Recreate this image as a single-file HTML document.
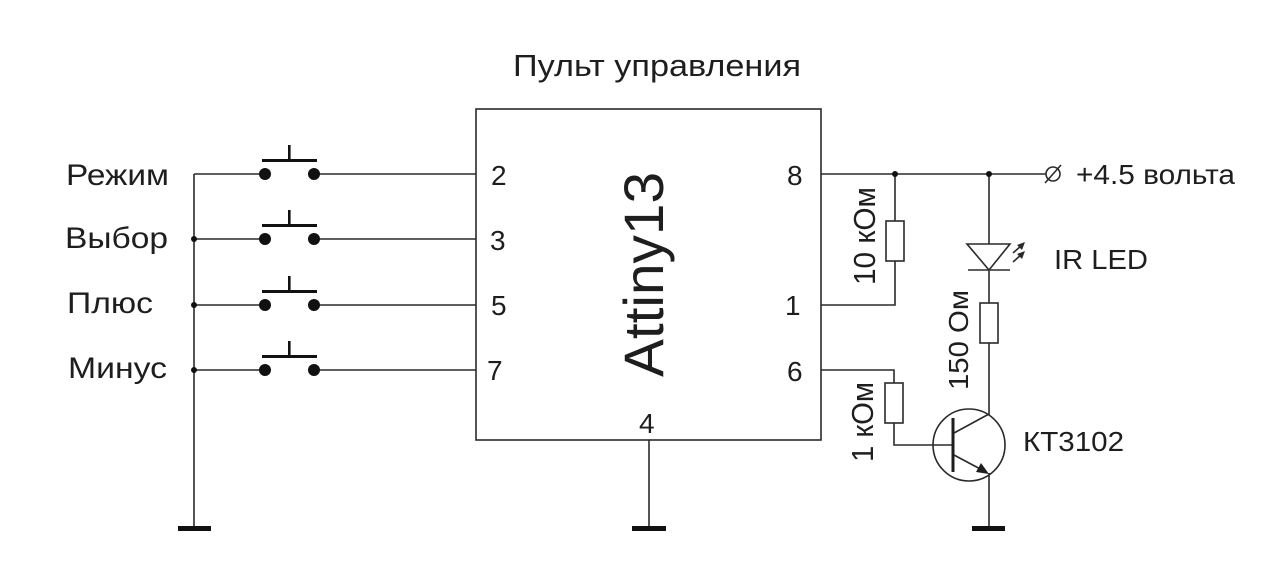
<!DOCTYPE html>
<html>
<head>
<meta charset="utf-8">
<style>
html,body{margin:0;padding:0;background:#fff;}
svg{display:block;}
text{font-family:"Liberation Sans","DejaVu Sans",sans-serif;fill:#1e1e1e;}
</style>
</head>
<body>
<svg width="1280" height="584" viewBox="0 0 1280 584" xmlns="http://www.w3.org/2000/svg">
<rect x="0" y="0" width="1280" height="584" fill="#fff"/>

<!-- Title -->
<text x="513" y="76" font-size="31" textLength="288" lengthAdjust="spacingAndGlyphs">Пульт управления</text>

<g stroke="#2a2a2a" stroke-width="1.6" fill="none">
  <!-- Chip -->
  <rect x="476" y="109" width="345" height="331"/>
  <!-- left bus -->
  <line x1="194" y1="174" x2="194" y2="528"/>
  <!-- rows left -->
  <line x1="194" y1="174" x2="265" y2="174"/>
  <line x1="314" y1="174" x2="476" y2="174"/>
  <line x1="194" y1="239" x2="265" y2="239"/>
  <line x1="314" y1="239" x2="476" y2="239"/>
  <line x1="194" y1="305" x2="265" y2="305"/>
  <line x1="314" y1="305" x2="476" y2="305"/>
  <line x1="194" y1="370" x2="265" y2="370"/>
  <line x1="314" y1="370" x2="476" y2="370"/>
  <!-- pin 4 -->
  <line x1="649" y1="440" x2="649" y2="528"/>
  <!-- pin 8 line -->
  <line x1="821" y1="174" x2="1046" y2="174"/>
  <!-- 10k -->
  <line x1="895" y1="174" x2="895" y2="221"/>
  <rect x="886" y="221" width="18" height="40"/>
  <polyline points="895,261 895,305 821,305"/>
  <!-- LED branch -->
  <line x1="989" y1="174" x2="989" y2="244"/>
  <polygon points="967,244 1010,244 989,270"/>
  <line x1="968" y1="270" x2="1010" y2="270"/>
  <line x1="989" y1="270" x2="989" y2="303"/>
  <rect x="980" y="303" width="18" height="40"/>
  <line x1="989" y1="343" x2="989" y2="415"/>
  <!-- LED arrows -->
  <line x1="1013" y1="253" x2="1022" y2="245"/>
  <line x1="1013" y1="262" x2="1022" y2="254"/>
  <!-- pin 6 -->
  <polyline points="821,370 894,370 894,383"/>
  <rect x="885" y="383" width="18" height="40"/>
  <polyline points="894,423 894,445 953,445"/>
  <!-- transistor -->
  <circle cx="969" cy="445" r="36"/>
  <line x1="954" y1="433" x2="989" y2="414"/>
  <line x1="954" y1="455" x2="984" y2="471"/>
  <line x1="989" y1="473" x2="989" y2="528"/>
  <!-- terminal -->
  <circle cx="1053" cy="174" r="7"/>
  <line x1="1045" y1="183" x2="1061" y2="165"/>
</g>

<!-- LED arrowheads -->
<polygon points="1025,242 1017,245 1022,250" fill="#2a2a2a"/>
<polygon points="1025,251 1017,254 1022,259" fill="#2a2a2a"/>

<!-- base bar -->
<rect x="951.5" y="418" width="3" height="54" fill="#1e1e1e"/>
<!-- emitter arrow -->
<polygon points="989,474 976,472 981,463" fill="#1e1e1e"/>

<!-- Switches -->
<g fill="#111">
  <g>
    <circle cx="265" cy="174" r="6"/><circle cx="314" cy="174" r="6"/>
    <rect x="262" y="159" width="55" height="3"/><rect x="288" y="145" width="2.6" height="15"/>
  </g>
  <g>
    <circle cx="265" cy="239" r="6"/><circle cx="314" cy="239" r="6"/>
    <rect x="262" y="224" width="55" height="3"/><rect x="288" y="210" width="2.6" height="15"/>
  </g>
  <g>
    <circle cx="265" cy="305" r="6"/><circle cx="314" cy="305" r="6"/>
    <rect x="262" y="290" width="55" height="3"/><rect x="288" y="276" width="2.6" height="15"/>
  </g>
  <g>
    <circle cx="265" cy="370" r="6"/><circle cx="314" cy="370" r="6"/>
    <rect x="262" y="355" width="55" height="3"/><rect x="288" y="341" width="2.6" height="15"/>
  </g>
  <!-- junction dots -->
  <circle cx="194" cy="239" r="3"/>
  <circle cx="194" cy="305" r="3"/>
  <circle cx="194" cy="370" r="3"/>
  <circle cx="895" cy="174" r="3"/>
  <circle cx="989" cy="174" r="3"/>
  <!-- grounds -->
  <rect x="178" y="526" width="33" height="5"/>
  <rect x="632" y="526" width="34" height="5"/>
  <rect x="972" y="526" width="33" height="5"/>
</g>

<!-- Left labels -->
<text x="66" y="185" font-size="30" textLength="103" lengthAdjust="spacingAndGlyphs">Режим</text>
<text x="65" y="248" font-size="30" textLength="103" lengthAdjust="spacingAndGlyphs">Выбор</text>
<text x="67" y="313" font-size="30" textLength="86" lengthAdjust="spacingAndGlyphs">Плюс</text>
<text x="68" y="378" font-size="30" textLength="99" lengthAdjust="spacingAndGlyphs">Минус</text>

<!-- Pin numbers -->
<text x="491" y="185" font-size="28">2</text>
<text x="490" y="250" font-size="28">3</text>
<text x="491" y="315" font-size="28">5</text>
<text x="487" y="380" font-size="28">7</text>
<text x="787" y="185" font-size="28">8</text>
<text x="785" y="315" font-size="28">1</text>
<text x="787" y="381" font-size="28">6</text>
<text x="639" y="433" font-size="28">4</text>

<!-- Attiny13 -->
<text transform="translate(663,377) rotate(-90)" font-size="56" textLength="205" lengthAdjust="spacingAndGlyphs">Attiny13</text>

<!-- Rotated resistor labels -->
<text transform="translate(875,285) rotate(-90)" font-size="31" textLength="98" lengthAdjust="spacingAndGlyphs">10 кОм</text>
<text transform="translate(968,390) rotate(-90)" font-size="28" textLength="100" lengthAdjust="spacingAndGlyphs">150 Ом</text>
<text transform="translate(873,462) rotate(-90)" font-size="31" textLength="80" lengthAdjust="spacingAndGlyphs">1 кОм</text>

<!-- Right labels -->
<text x="1076" y="184" font-size="28" textLength="159" lengthAdjust="spacingAndGlyphs">+4.5 вольта</text>
<text x="1054" y="269" font-size="28" textLength="94" lengthAdjust="spacingAndGlyphs">IR LED</text>
<text x="1023" y="451" font-size="28" textLength="101" lengthAdjust="spacingAndGlyphs">КТ3102</text>
</svg>
</body>
</html>
